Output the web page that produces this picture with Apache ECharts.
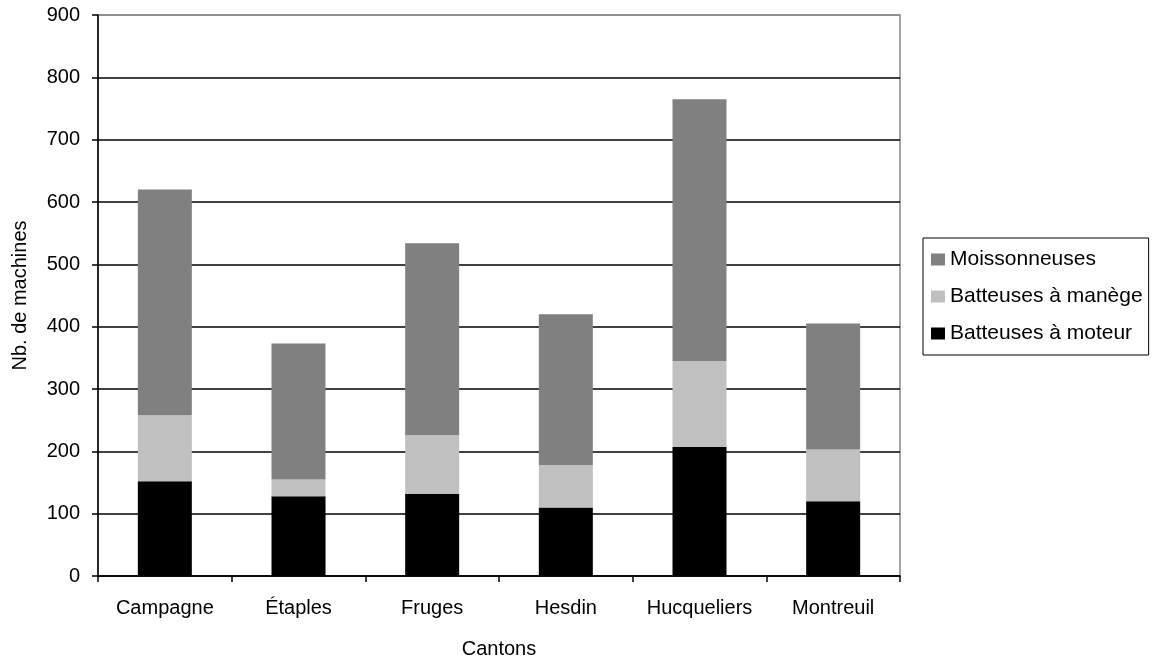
<!DOCTYPE html>
<html>
<head>
<meta charset="utf-8">
<script src="https://cdn.jsdelivr.net/npm/echarts@6/dist/echarts.min.js"></script>
<style>
html,body{margin:0;padding:0;background:#fff;}
#chart{width:1156px;height:661px;}
</style>
</head>
<body>
<div id="chart"></div>
<script>
const categories = ['Campagne', 'Étaples', 'Fruges', 'Hesdin', 'Hucqueliers', 'Montreuil'];
const moteur = [152, 128, 132, 110, 207, 120];
const manege = [106, 27, 94, 68, 138, 83];
const moissonneuses = [362, 218, 308, 242, 420, 202];
const yTicks = [0, 100, 200, 300, 400, 500, 600, 700, 800, 900];
const seriesNames = ['Batteuses à moteur', 'Batteuses à manège', 'Moissonneuses'];
const legendOrder = ['Moissonneuses', 'Batteuses à manège', 'Batteuses à moteur'];

const FONT = '"Liberation Sans", Arial, sans-serif';
const FS = 20;
const LFS = 21;

const chart = echarts.init(document.getElementById('chart'), null, {renderer: 'canvas'});
const splitColors = yTicks.map((v, i) => i === yTicks.length - 1 ? '#888888' : '#000000');

chart.setOption({
  backgroundColor: '#ffffff',
  animation: false,
  textStyle: {fontFamily: FONT, color: '#000'},
  grid: {left: 98, right: 256, top: 15, bottom: 85, outerBoundsMode: 'none', containLabel: false, show: true, borderColor: '#888888', borderWidth: 1.5, backgroundColor: 'transparent'},
  legend: {
    orient: 'vertical',
    left: 923,
    top: 238,
    data: legendOrder,
    itemWidth: 14,
    itemHeight: 12,
    itemGap: 16,
    padding: [11, 6, 11, 8],
    borderColor: '#000',
    borderWidth: 1,
    textStyle: {fontFamily: FONT, fontSize: LFS, color: '#000'},
    icon: 'rect'
  },
  xAxis: {
    type: 'category',
    data: categories,
    name: 'Cantons',
    nameLocation: 'middle',
    nameGap: 63,
    nameTextStyle: {fontFamily: FONT, fontSize: FS, color: '#000'},
    axisLine: {lineStyle: {color: '#000', width: 1.5}},
    axisTick: {show: true, interval: 0, length: 6, lineStyle: {color: '#000', width: 1.5}},
    axisLabel: {interval: 0, hideOverlap: false, fontFamily: FONT, fontSize: FS, color: '#000', margin: 22}
  },
  yAxis: {
    type: 'value',
    min: 0,
    max: 900,
    interval: 100,
    name: 'Nb. de machines',
    nameLocation: 'middle',
    nameRotate: 90,
    nameGap: 68,
    nameTextStyle: {fontFamily: FONT, fontSize: FS, color: '#000'},
    axisLine: {show: true, lineStyle: {color: '#000', width: 1.5}},
    axisTick: {show: true, length: 6, lineStyle: {color: '#000', width: 1.5}},
    axisLabel: {fontFamily: FONT, fontSize: FS, color: '#000', margin: 18},
    splitLine: {show: true, lineStyle: {color: splitColors, width: 1.5}}
  },
  series: [
    {name: seriesNames[0], type: 'bar', stack: 'total', data: moteur, barWidth: 54, itemStyle: {color: '#000000'}},
    {name: seriesNames[1], type: 'bar', stack: 'total', data: manege, barWidth: 54, itemStyle: {color: '#c0c0c0'}},
    {name: seriesNames[2], type: 'bar', stack: 'total', data: moissonneuses, barWidth: 54, itemStyle: {color: '#808080'}}
  ]
});
</script>
</body>
</html>
